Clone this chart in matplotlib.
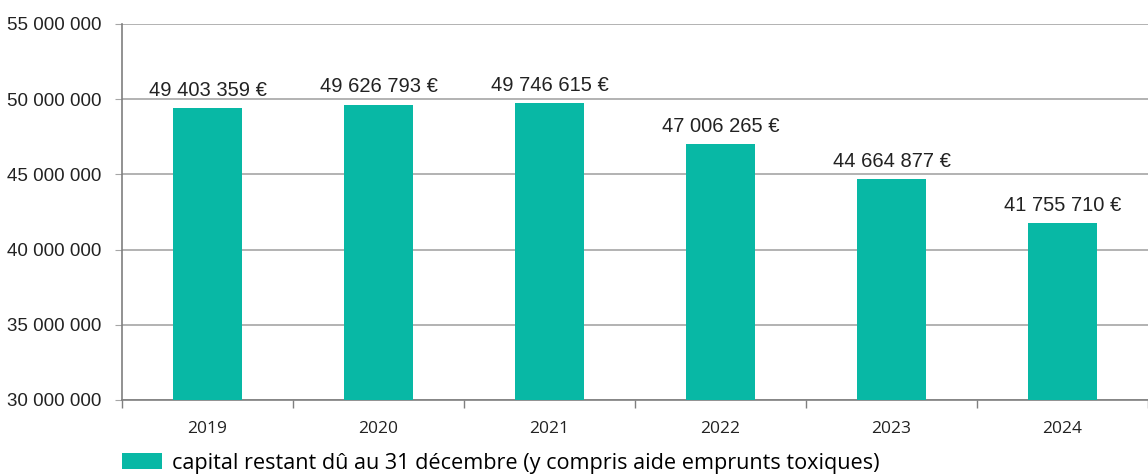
import matplotlib
matplotlib.use("Agg")
import numpy as np
from matplotlib import pyplot as plt
from matplotlib.patches import Patch

# data
years = ["2019", "2020", "2021", "2022", "2023", "2024"]
capital = [49403359, 49626793, 49746615, 47006265, 44664877, 41755710]
y_ticks = [30000000, 35000000, 40000000, 45000000, 50000000, 55000000]
legend_label = "capital restant dû au 31 décembre (y compris aide emprunts toxiques)"

bar_color = "#08B8A5"
grid_color = "#A6A6A6"


def fmt(v):
    return f"{v:,}".replace(",", " ")


fig = plt.figure(figsize=(11.48, 4.75), dpi=100)
ax = fig.add_axes([122 / 1148, 1 - 400 / 475, 1 - 122 / 1148, (400 - 24) / 475])

x = np.arange(len(years))
ax.bar(x, capital, width=0.4, color=bar_color, zorder=3)

for xi, v in zip(x, capital):
    ax.annotate(fmt(v) + " €", (xi, v), xytext=(0, 6), textcoords="offset points",
                ha="center", va="bottom", fontsize=14.5, family="Liberation Sans",
                color="#222222")

ax.set_xlim(-0.5, len(years) - 0.5)
ax.set_ylim(30000000, 55000000)
ax.set_yticks(y_ticks)
ax.set_yticklabels([fmt(t) for t in y_ticks], fontsize=13.5, family="Liberation Sans",
                   color="#222222")
ax.yaxis.grid(True, color=grid_color, linewidth=1.2, zorder=0)
ax.tick_params(axis="y", length=5, color=grid_color, pad=10)

# category ticks on boundaries, labels at centers
ax.set_xticks(np.arange(len(years) + 1) - 0.5)
ax.set_xticklabels([])
ax.set_xticks(x, minor=True)
ax.set_xticklabels(years, minor=True, fontsize=12.5, family="Open Sans", color="#222222")
ax.tick_params(axis="x", which="major", length=6, color="#7F7F7F", width=1)
ax.tick_params(axis="x", which="minor", length=0, pad=15)

for s in ["top", "right"]:
    ax.spines[s].set_visible(False)
ax.spines["left"].set_color("#7F7F7F")
ax.spines["bottom"].set_color("#7F7F7F")
ax.spines["left"].set_linewidth(1.2)
ax.spines["bottom"].set_linewidth(1.2)

handles = [Patch(facecolor=bar_color, edgecolor="none", label=legend_label)]
fig.legend(handles=handles, loc="center left", bbox_to_anchor=(122 / 1148, 1 - 463 / 475),
           frameon=False, prop={"family": "Open Sans", "size": 15.6},
           borderpad=0, borderaxespad=0,
           handlelength=1.85, handleheight=0.7, handletextpad=0.46)

fig.savefig("out.png", dpi=100)
